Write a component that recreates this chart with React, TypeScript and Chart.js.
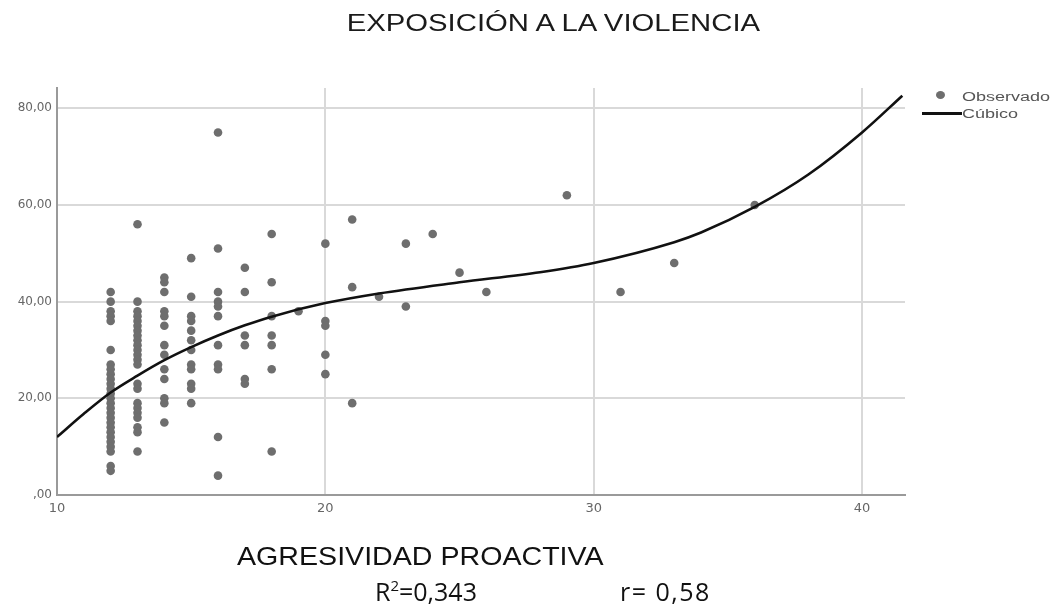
import { useEffect, useRef } from "react";
import { Chart, registerables } from "chart.js";

Chart.register(...registerables);

// Observed values (AGRESIVIDAD PROACTIVA) grouped by EXPOSICIÓN A LA VIOLENCIA score
const obs12 = [42, 40, 38, 37, 36, 30, 27, 26, 25, 24, 23, 22, 21, 20, 19, 18, 17, 16, 15, 14, 13, 12, 11, 10, 9, 6, 5];
const obs13 = [56, 40, 38, 37, 36, 35, 34, 33, 32, 31, 30, 29, 28, 27, 23, 22, 19, 18, 17, 16, 14, 13, 9];
const obs14 = [45, 44, 42, 38, 37, 35, 31, 29, 26, 24, 20, 19, 15];
const obs15 = [49, 41, 37, 36, 34, 32, 30, 27, 26, 23, 22, 19];
const obs16 = [75, 51, 42, 40, 39, 37, 31, 27, 26, 12, 4];
const obs17 = [47, 42, 33, 31, 24, 23];
const obs18 = [54, 44, 37, 33, 31, 26, 9];
const obs19 = [38];
const obs20 = [52, 36, 35, 29, 25];
const obs21 = [57, 43, 19];
const obs22 = [41];
const obs23 = [52, 39];
const obs24 = [54];
const obs25 = [46];
const obs26 = [42];
const obs29 = [62];
const obs31 = [42];
const obs33 = [48];
const obs36 = [60];

const observedColumns: [number, number[]][] = [
  [12, obs12], [13, obs13], [14, obs14], [15, obs15], [16, obs16], [17, obs17],
  [18, obs18], [19, obs19], [20, obs20], [21, obs21], [22, obs22], [23, obs23],
  [24, obs24], [25, obs25], [26, obs26], [29, obs29], [31, obs31], [33, obs33], [36, obs36],
];

// Cubic fit line
const curveX = [10, 11, 12, 13, 14, 15, 16, 17, 18, 20, 22, 25, 28, 30, 33, 34, 36, 38, 40, 41.5];
const curveY = [12, 16.8, 21.2, 24.7, 27.9, 30.6, 33.0, 35.1, 36.9, 39.7, 41.7, 44.0, 46.1, 48.0, 52.3, 54.3, 59.6, 66.3, 75.0, 82.6];

const xTicks = [10, 20, 30, 40];
const yTicks = [0, 20, 40, 60, 80];
const yTickLabels = [",00", "20,00", "40,00", "60,00", "80,00"];

export default function App() {
  const canvasRef = useRef<HTMLCanvasElement | null>(null);

  useEffect(() => {
    const canvas = canvasRef.current;
    if (!canvas) return;
    const observed = observedColumns.flatMap(([x, ys]) => ys.map((y) => ({ x, y })));
    const curve = curveX.map((x, i) => ({ x, y: curveY[i] }));

    const chart = new Chart(canvas, {
      type: "scatter",
      data: {
        datasets: [
          {
            label: "Cúbico",
            data: curve,
            showLine: true,
            borderColor: "#111111",
            borderWidth: 2.6,
            pointRadius: 0,
            cubicInterpolationMode: "monotone",
            fill: false,
            order: 0,
          } as any,
          {
            label: "Observado",
            data: observed,
            backgroundColor: "#6e6e6e",
            borderColor: "#6e6e6e",
            borderWidth: 0,
            pointRadius: 4.3,
            order: 1,
          },
        ],
      },
      options: {
        animation: false,
        responsive: false,
        maintainAspectRatio: false,
        layout: { padding: { left: 0, top: 88, right: 154, bottom: 0 } },
        plugins: { legend: { display: false }, tooltip: { enabled: false }, title: { display: false } },
        scales: {
          x: {
            type: "linear",
            min: 10,
            max: 41.6,
            afterBuildTicks: (axis: any) => {
              axis.ticks = xTicks.map((v) => ({ value: v }));
            },
            afterFit: (s: any) => {
              s.height = 118;
            },
            grid: { color: "#d9d9d9", lineWidth: 2, drawTicks: false },
            border: { color: "#9a9a9a", width: 2 },
            ticks: {
              color: "#666666",
              font: { family: "DejaVu Sans", size: 13 },
              padding: 6,
              maxRotation: 0,
              callback: (v: any) => String(v),
            },
          },
          y: {
            type: "linear",
            min: 0,
            max: 84.2,
            afterBuildTicks: (axis: any) => {
              axis.ticks = yTicks.map((v) => ({ value: v }));
            },
            afterFit: (s: any) => {
              s.width = 57;
            },
            grid: { color: "#d9d9d9", lineWidth: 2, drawTicks: false },
            border: { color: "#9a9a9a", width: 2 },
            ticks: {
              color: "#666666",
              font: { family: "DejaVu Sans", size: 12 },
              padding: 5,
              callback: (v: any) => {
                const i = yTicks.indexOf(Number(v));
                return i >= 0 ? yTickLabels[i] : "";
              },
            },
          },
        },
      },
    });
    return () => chart.destroy();
  }, []);

  const legendText: React.CSSProperties = {
    position: "absolute",
    left: 962,
    fontFamily: "Liberation Sans, Arial, sans-serif",
    fontSize: 12,
    color: "#555",
    transform: "scaleX(1.5)",
    transformOrigin: "left center",
    lineHeight: "14px",
    whiteSpace: "nowrap",
  };

  const statText: React.CSSProperties = {
    position: "absolute",
    top: 575,
    fontFamily: "Open Sans, Noto Sans, sans-serif",
    fontSize: 25,
    color: "#111",
    whiteSpace: "nowrap",
    lineHeight: "32px",
  };

  return (
    <div style={{ position: "fixed", left: 0, top: 0, width: 1059, height: 613, background: "#fff", overflow: "hidden" }}>
      <canvas ref={canvasRef} width={1059} height={613} style={{ position: "absolute", left: 0, top: 0, width: 1059, height: 613 }} />
      <div
        style={{
          position: "absolute",
          left: 0,
          width: 1106,
          top: 9,
          textAlign: "center",
          fontFamily: "Liberation Sans, Arial, sans-serif",
          fontSize: 24,
          color: "#1a1a1a",
          whiteSpace: "nowrap",
        }}
      >
        <span style={{ display: "inline-block", transform: "scaleX(1.22)" }}>EXPOSICIÓN A LA VIOLENCIA</span>
      </div>
      <div style={{ position: "absolute", left: 936, top: 91, width: 9, height: 8, borderRadius: "50%", background: "#6e6e6e" }} />
      <div style={{ ...legendText, top: 90 }}>Observado</div>
      <div style={{ position: "absolute", left: 922, top: 112, width: 40, height: 3, background: "#111" }} />
      <div style={{ ...legendText, top: 107 }}>Cúbico</div>
      <div
        style={{
          position: "absolute",
          left: 237,
          top: 540,
          fontFamily: "Liberation Sans, Arial, sans-serif",
          fontSize: 26,
          color: "#111",
          whiteSpace: "nowrap",
          lineHeight: "32px",
          transform: "scaleX(1.1)",
          transformOrigin: "left center",
        }}
      >
        AGRESIVIDAD PROACTIVA
      </div>
      <div style={{ ...statText, left: 375 }}>
        R<sup style={{ fontSize: 15, verticalAlign: "10px", lineHeight: 0 }}>2</sup>=0,343
      </div>
      <div style={{ ...statText, left: 620, letterSpacing: 1.5 }}>r= 0,58</div>
    </div>
  );
}
